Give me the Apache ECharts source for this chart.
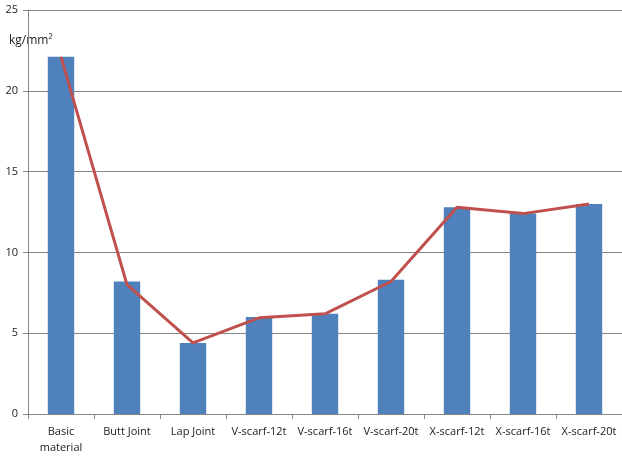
<!DOCTYPE html>
<html><head><meta charset="utf-8">
<script src="https://cdn.jsdelivr.net/npm/echarts@6/dist/echarts.min.js"></script>
<style>html,body{margin:0;padding:0;background:#fff}#c{width:622px;height:456px}</style>
</head><body><div id="c"></div>
<script>
const categories = ['Basic\nmaterial','Butt Joint','Lap Joint','V-scarf-12t','V-scarf-16t','V-scarf-20t','X-scarf-12t','X-scarf-16t','X-scarf-20t'];
const barValues = [22.1, 8.2, 4.4, 6.0, 6.2, 8.3, 12.8, 12.4, 13.0];
const lineValues = [22.1, 8.0, 4.4, 5.95, 6.2, 8.2, 12.8, 12.4, 13.0];
const yTicks = [0, 5, 10, 15, 20, 25];
const unitLabel = 'kg/mm²';

const chart = echarts.init(document.getElementById('c'), null, {renderer:'canvas'});
const font = '"Open Sans", "Liberation Sans", sans-serif';
chart.setOption({
  animation:false,
  textStyle:{fontFamily:font},
  grid:{left:28,right:0,top:10,bottom:38,containLabel:false},
  graphic:[{type:'text',left:9,top:35,style:{text:unitLabel,font:'12px '+font,fill:'#222'}}],
  xAxis:{type:'category',data:categories,boundaryGap:true,
    axisLine:{lineStyle:{color:'#868686'}},
    axisTick:{show:true,alignWithLabel:false,length:5,lineStyle:{color:'#868686'}},
    axisLabel:{color:'#222',fontSize:11,margin:10,interval:0,lineHeight:16,fontFamily:font}},
  yAxis:{type:'value',min:yTicks[0],max:yTicks[yTicks.length-1],interval:5,
    axisLine:{show:true,lineStyle:{color:'#868686'}},
    axisTick:{show:true,length:5,lineStyle:{color:'#868686'}},
    splitLine:{lineStyle:{color:'#868686',width:1}},
    axisLabel:{color:'#222',fontSize:11,margin:10,fontFamily:font}},
  series:[
    {type:'bar',data:barValues,barWidth:'40%',itemStyle:{color:'#4F81BD'}},
    {type:'line',data:lineValues,symbol:'none',lineStyle:{color:'#C0504D',width:3}}
  ]
});
</script></body></html>
